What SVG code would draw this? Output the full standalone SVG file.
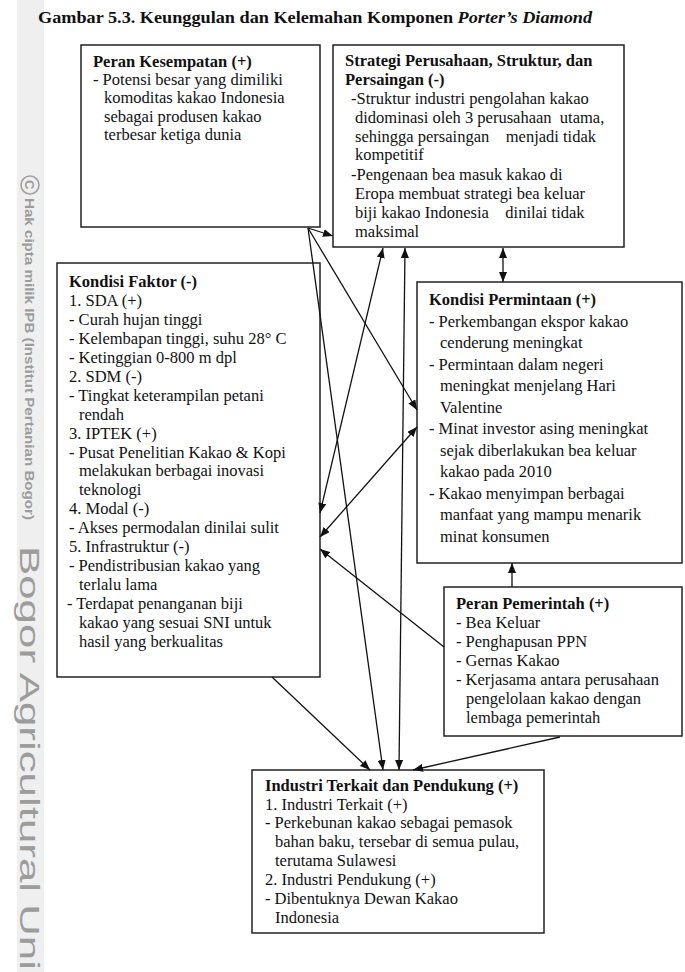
<svg xmlns="http://www.w3.org/2000/svg" width="685" height="972" viewBox="0 0 685 972">
<style>
.box{fill:#fff;stroke:#222;stroke-width:1.5}
.t{font-family:"Liberation Serif","Times New Roman",serif;font-size:16.5px;fill:#111;white-space:pre}
.b{font-weight:bold}
.c{stroke:#111;stroke-width:1.3;fill:none}
.wm{font-family:"Liberation Sans",Arial,sans-serif;fill:#9c9c9c}
</style>
<defs>
<marker id="ah" viewBox="0 0 10 8" refX="10" refY="4" markerWidth="10" markerHeight="8" markerUnits="userSpaceOnUse" orient="auto-start-reverse">
<path d="M0,0 L10,4 L0,8 z" fill="#111"/>
</marker>
</defs>
<rect width="685" height="972" fill="#fff"/>
<g id="watermark">
<rect x="17" y="0" width="27" height="972" fill="#efefef"/>
<circle cx="30" cy="185" r="9" fill="none" stroke="#a0a0a0" stroke-width="1.6"/>
<text class="wm" transform="translate(25,180) rotate(90)" font-size="13" font-weight="bold">C</text>
<text class="wm" transform="translate(25,198) rotate(90)" font-size="13" font-weight="bold" textLength="322" lengthAdjust="spacingAndGlyphs">Hak cipta milik IPB (Institut Pertanian Bogor)</text>
<text class="wm" transform="translate(20,546) rotate(90)" font-size="27" fill="#a8a8a8" textLength="424" lengthAdjust="spacingAndGlyphs">Bogor Agricultural Uni</text>
</g>
<text id="title" class="t b" x="38" y="23" font-size="19" textLength="554" lengthAdjust="spacingAndGlyphs">Gambar 5.3. Keunggulan dan Kelemahan Komponen <tspan font-style="italic">Porter’s Diamond</tspan></text>
<g id="peran-kesempatan">
<rect class="box" x="81" y="45" width="239" height="182"/>
<text class="t b" x="93" y="67">Peran Kesempatan (+)</text>
<text class="t" x="93" y="85">- Potensi besar yang dimiliki</text>
<text class="t" x="104" y="103">komoditas kakao Indonesia</text>
<text class="t" x="104" y="122">sebagai produsen kakao</text>
<text class="t" x="104" y="140">terbesar ketiga dunia</text>
</g>
<g id="strategi">
<rect class="box" x="333" y="45" width="291" height="202"/>
<text class="t b" x="345" y="66">Strategi Perusahaan, Struktur, dan</text>
<text class="t b" x="345" y="85">Persaingan (-)</text>
<text class="t" x="351" y="104">-Struktur industri pengolahan kakao</text>
<text class="t" x="355" y="123" xml:space="preserve">didominasi oleh 3 perusahaan  utama,</text>
<text class="t" x="355" y="142" xml:space="preserve">sehingga persaingan    menjadi tidak</text>
<text class="t" x="355" y="160">kompetitif</text>
<text class="t" x="351" y="180">-Pengenaan bea masuk kakao di</text>
<text class="t" x="355" y="199">Eropa membuat strategi bea keluar</text>
<text class="t" x="355" y="218" xml:space="preserve">biji kakao Indonesia    dinilai tidak</text>
<text class="t" x="355" y="237">maksimal</text>
</g>
<g id="kondisi-faktor">
<rect class="box" x="57" y="263" width="263" height="414"/>
<text class="t b" x="69" y="287">Kondisi Faktor (-)</text>
<text class="t" x="69" y="306">1. SDA (+)</text>
<text class="t" x="69" y="325">- Curah hujan tinggi</text>
<text class="t" x="69" y="344">- Kelembapan tinggi, suhu 28° C</text>
<text class="t" x="69" y="363">- Ketinggian 0-800 m dpl</text>
<text class="t" x="69" y="382">2. SDM (-)</text>
<text class="t" x="69" y="401">- Tingkat keterampilan petani</text>
<text class="t" x="79" y="420">rendah</text>
<text class="t" x="69" y="439">3. IPTEK (+)</text>
<text class="t" x="69" y="458">- Pusat Penelitian Kakao &amp; Kopi</text>
<text class="t" x="79" y="476">melakukan berbagai inovasi</text>
<text class="t" x="79" y="495">teknologi</text>
<text class="t" x="69" y="514">4. Modal (-)</text>
<text class="t" x="69" y="533">- Akses permodalan dinilai sulit</text>
<text class="t" x="69" y="552">5. Infrastruktur (-)</text>
<text class="t" x="69" y="571">- Pendistribusian kakao yang</text>
<text class="t" x="79" y="590">terlalu lama</text>
<text class="t" x="67" y="609">- Terdapat penanganan biji</text>
<text class="t" x="79" y="628">kakao yang sesuai SNI untuk</text>
<text class="t" x="79" y="647">hasil yang berkualitas</text>
</g>
<g id="kondisi-permintaan">
<rect class="box" x="417" y="282" width="265" height="281"/>
<text class="t b" x="429" y="305">Kondisi Permintaan (+)</text>
<text class="t" x="429" y="326.5">- Perkembangan ekspor kakao</text>
<text class="t" x="440" y="348">cenderung meningkat</text>
<text class="t" x="429" y="369.5">- Permintaan dalam negeri</text>
<text class="t" x="440" y="391">meningkat menjelang Hari</text>
<text class="t" x="440" y="412.5">Valentine</text>
<text class="t" x="429" y="434">- Minat investor asing meningkat</text>
<text class="t" x="440" y="455.5">sejak diberlakukan bea keluar</text>
<text class="t" x="440" y="477">kakao pada 2010</text>
<text class="t" x="429" y="498.5">- Kakao menyimpan berbagai</text>
<text class="t" x="440" y="520">manfaat yang mampu menarik</text>
<text class="t" x="440" y="541.5">minat konsumen</text>
</g>
<g id="peran-pemerintah">
<rect class="box" x="444" y="587" width="238" height="149"/>
<text class="t b" x="456" y="609">Peran Pemerintah (+)</text>
<text class="t" x="456" y="628">- Bea Keluar</text>
<text class="t" x="456" y="647">- Penghapusan PPN</text>
<text class="t" x="456" y="666">- Gernas Kakao</text>
<text class="t" x="456" y="685">- Kerjasama antara perusahaan</text>
<text class="t" x="466" y="704">pengelolaan kakao dengan</text>
<text class="t" x="466" y="723">lembaga pemerintah</text>
</g>
<g id="industri-terkait">
<rect class="box" x="252" y="770" width="292" height="163"/>
<text class="t b" x="265" y="791">Industri Terkait dan Pendukung (+)</text>
<text class="t" x="265" y="810">1. Industri Terkait (+)</text>
<text class="t" x="265" y="828">- Perkebunan kakao sebagai pemasok</text>
<text class="t" x="275" y="847">bahan baku, tersebar di semua pulau,</text>
<text class="t" x="275" y="866">terutama Sulawesi</text>
<text class="t" x="265" y="885">2. Industri Pendukung (+)</text>
<text class="t" x="265" y="904">- Dibentuknya Dewan Kakao</text>
<text class="t" x="275" y="923">Indonesia</text>
</g>
<g id="connectors">
<path class="c" d="M308,228 L333,236" marker-end="url(#ah)"/>
<path class="c" d="M308,228 L383,770" marker-end="url(#ah)"/>
<path class="c" d="M308,228 L417,410" marker-end="url(#ah)"/>
<path class="c" d="M383,248 L320,513" marker-start="url(#ah)" marker-end="url(#ah)"/>
<path class="c" d="M405,248 L399,770" marker-start="url(#ah)" marker-end="url(#ah)"/>
<path class="c" d="M503,248 L503,282" marker-start="url(#ah)" marker-end="url(#ah)"/>
<path class="c" d="M320,537 L417,427" marker-start="url(#ah)" marker-end="url(#ah)"/>
<path class="c" d="M444,647 L320,549" marker-end="url(#ah)"/>
<path class="c" d="M512,587 L512,563" marker-end="url(#ah)"/>
<path class="c" d="M560,737 L413,770" marker-end="url(#ah)"/>
<path class="c" d="M272,677 L370,770" marker-end="url(#ah)"/>
</g>
</svg>
